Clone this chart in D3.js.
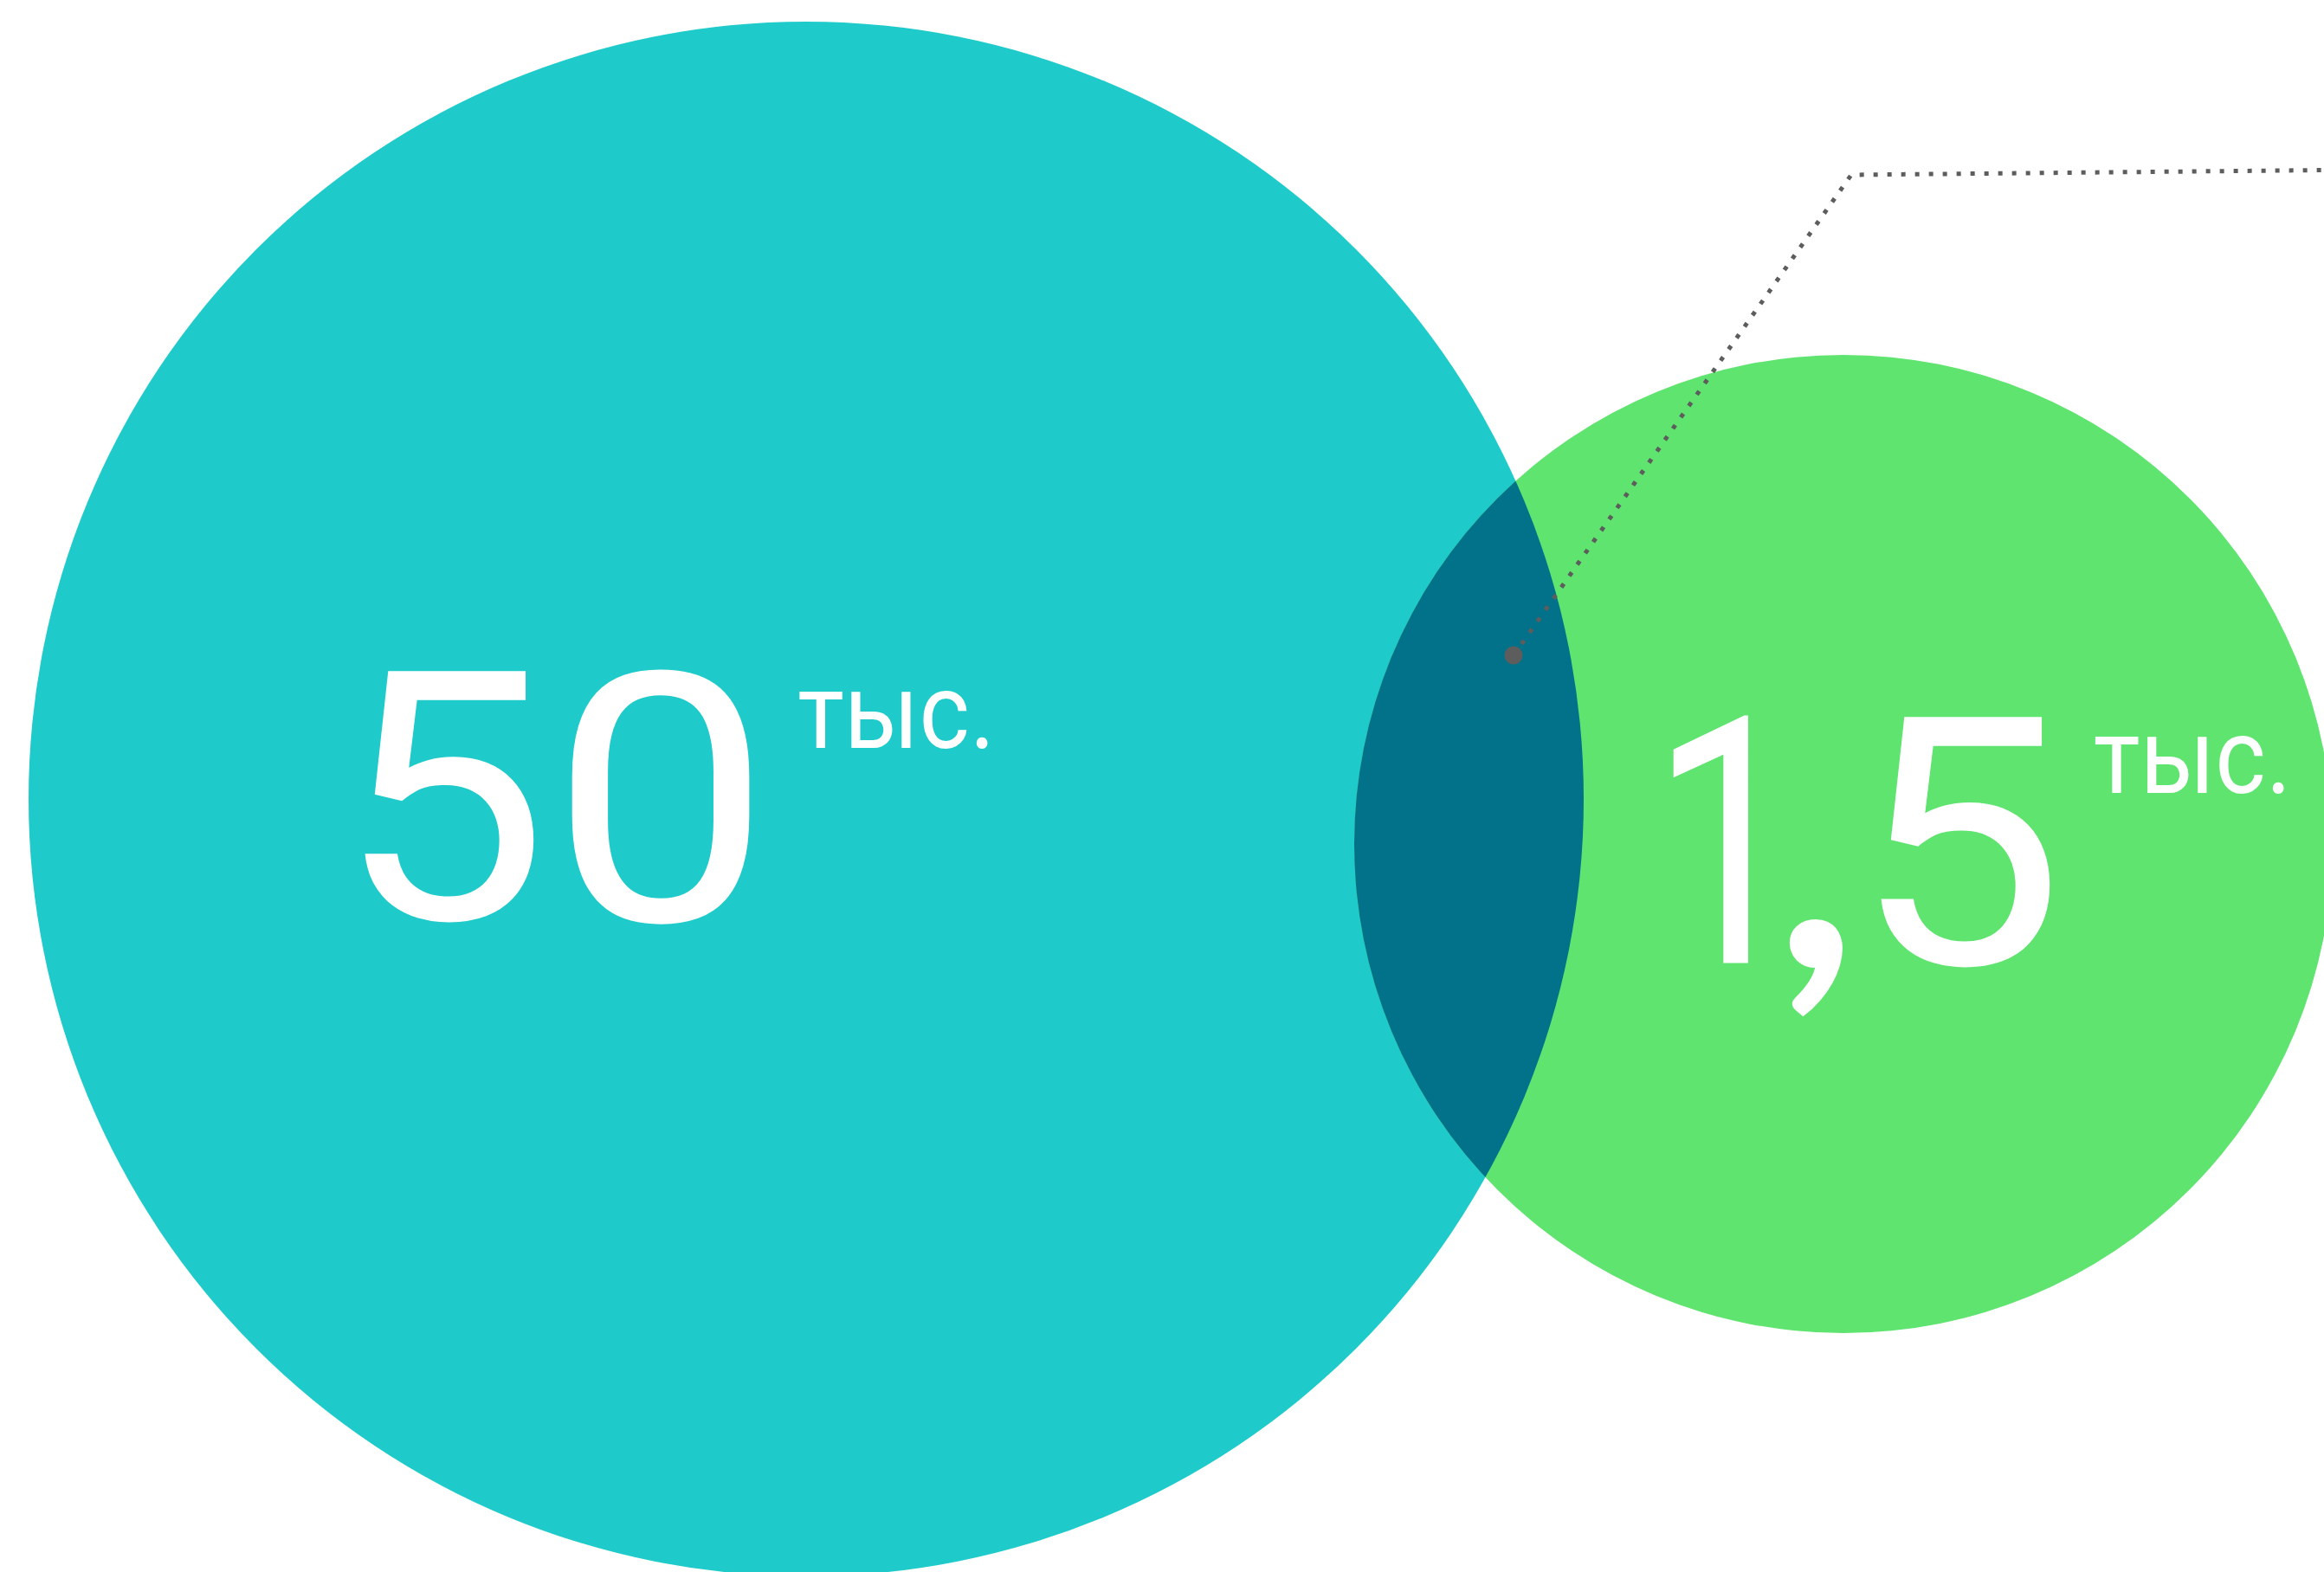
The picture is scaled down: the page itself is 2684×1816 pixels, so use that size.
<!DOCTYPE html>
<html lang="ru">
<head>
<meta charset="utf-8">
<title>50 тыс. и 1,5 тыс.</title>
<script src="https://cdn.jsdelivr.net/npm/d3@7"></script>
<style>
  html, body { margin: 0; padding: 0; background: #ffffff; overflow: hidden; }
  svg { display: block; }
</style>
</head>
<body>
<svg id="chart"></svg>
<script>
// Two overlapping circles: the larger group and the smaller group.
const groups = ["total", "subset"];
const values = [50, 1.5];
const valueLabels = ["50", "1,5"];
const unitLabel = "тыс.";

const W = 2684, H = 1816;

const fillColors = { total: "#1ecbca", subset: "#5fe46f" };
const overlapColor = "#02728b";
const leaderColor = "#5d5d5d";

const svg = d3.select("#chart").attr("width", W).attr("height", H);

// Radius scale for the circles
const r = d3.scaleLinear().domain([1.5, 50]).range([565, 898]);

// Circle centres (layout)
const centers = {
  total:  { x: 931,  y: 923 },
  subset: { x: 2129, y: 975 }
};

const nodes = groups.map((g, i) => ({
  key: g,
  value: values[i],
  label: valueLabels[i],
  cx: centers[g].x,
  cy: centers[g].y,
  r: r(values[i])
}));

const defs = svg.append("defs");
defs.append("clipPath").attr("id", "clip-total")
  .append("circle")
  .attr("cx", nodes[0].cx).attr("cy", nodes[0].cy).attr("r", nodes[0].r);

// Circles
svg.append("g").selectAll("circle.group")
  .data(nodes)
  .join("circle")
  .attr("class", "group")
  .attr("cx", d => d.cx)
  .attr("cy", d => d.cy)
  .attr("r", d => d.r)
  .attr("fill", d => fillColors[d.key]);

// Overlap lens
svg.append("circle")
  .attr("clip-path", "url(#clip-total)")
  .attr("cx", nodes[1].cx).attr("cy", nodes[1].cy).attr("r", nodes[1].r)
  .attr("fill", overlapColor);

// Leader line from the overlap to the top right
const leaderPts = [[1748, 757], [2138, 202], [W, 196.5]];
svg.append("path")
  .attr("d", d3.line()(leaderPts))
  .attr("fill", "none")
  .attr("stroke", leaderColor)
  .attr("stroke-width", 5)
  .attr("stroke-dasharray", "5,11");
svg.append("circle")
  .attr("cx", leaderPts[0][0]).attr("cy", leaderPts[0][1])
  .attr("r", 10.5).attr("fill", leaderColor);

// Text ink measuring helper
const ctx = document.createElement("canvas").getContext("2d");
function ink(text, family, weight, size) {
  ctx.font = `${weight} ${size}px ${family}`;
  const m = ctx.measureText(text);
  return {
    left: -m.actualBoundingBoxLeft,
    right: m.actualBoundingBoxRight,
    top: -m.actualBoundingBoxAscent,
    bottom: m.actualBoundingBoxDescent
  };
}

// Set a string so that its glyph outlines fill a box [x0, x1] x [y0, y1]
const labels = svg.append("g").attr("fill", "#ffffff");
function fitText(text, family, weight, box) {
  const base = 100;
  const m0 = ink(text, family, weight, base);
  const size = base * (box.y1 - box.y0) / (m0.bottom - m0.top);
  const m = ink(text, family, weight, size);
  const sx = (box.x1 - box.x0) / (m.right - m.left);
  labels.append("text")
    .attr("transform", `translate(${box.x0},${box.y0 - m.top}) scale(${sx},1)`)
    .attr("x", -m.left)
    .attr("y", 0)
    .style("font-family", family)
    .style("font-weight", weight)
    .style("font-size", size + "px")
    .text(text);
}

const digitFont = "Roboto";
const unitFont = "Roboto";
const commaFont = "Lato";

// "50" with its unit
const big = Array.from(nodes[0].label);
fitText(big[0], digitFont, 400, { x0: 416, x1: 620, y0: 772, y1: 1066 });
fitText(big[1], digitFont, 400, { x0: 656.5, x1: 870, y0: 768, y1: 1066 });
fitText(unitLabel, unitFont, 400, { x0: 923, x1: 1141, y0: 797, y1: 864 });

// "1,5" with its unit
const small = Array.from(nodes[1].label);
fitText(small[0], digitFont, 400, { x0: 1931, x1: 2020, y0: 825, y1: 1113 });
fitText(small[1], commaFont, 700, { x0: 2062, x1: 2133, y0: 1057, y1: 1175 });
fitText(small[2], digitFont, 400, { x0: 2167, x1: 2371, y0: 825, y1: 1118 });
fitText(unitLabel, unitFont, 400, { x0: 2419.5, x1: 2638, y0: 849, y1: 916 });
</script>
</body>
</html>
